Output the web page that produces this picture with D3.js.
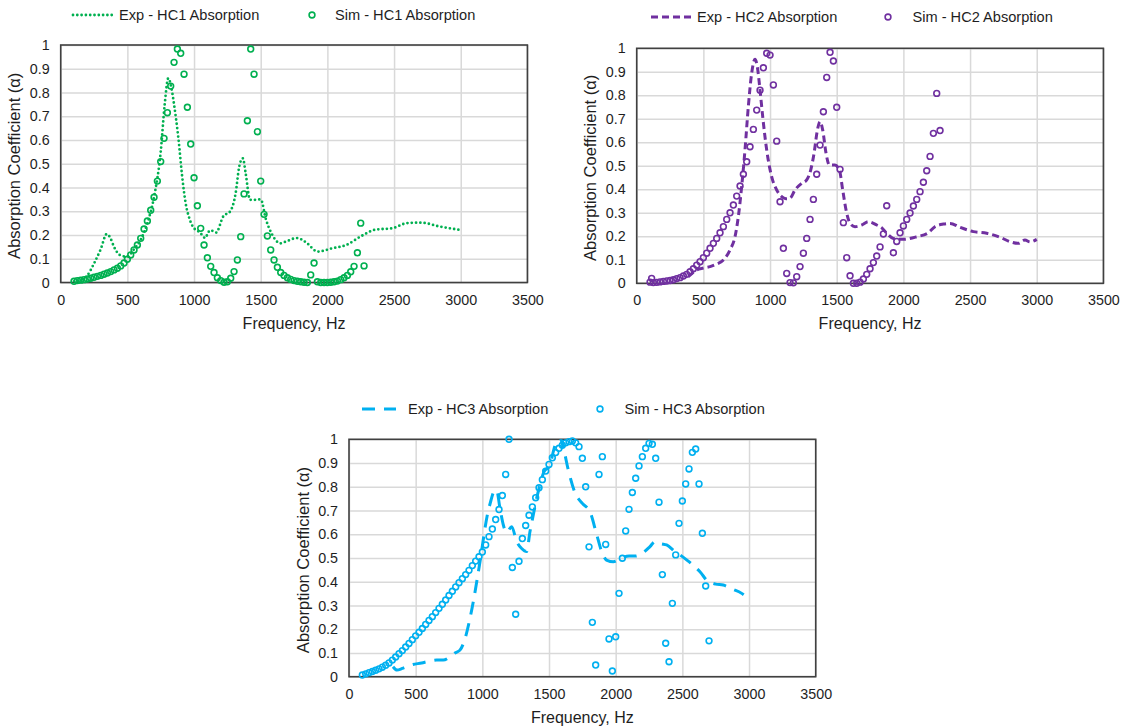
<!DOCTYPE html>
<html>
<head>
<meta charset="utf-8">
<script src="https://cdn.jsdelivr.net/npm/d3@7"></script>
<style>
  body { margin: 0; background: #fff; }
  svg { display: block; font-family: "Liberation Sans", Arial, sans-serif; }
</style>
</head>
<body>
<svg id="chart" width="1129" height="728"></svg>
<script>

// tick values shared by all three panels
const xTicks = [0, 500, 1000, 1500, 2000, 2500, 3000, 3500];
const yTicks = [0, 0.1, 0.2, 0.3, 0.4, 0.5, 0.6, 0.7, 0.8, 0.9, 1];

// [frequency Hz, absorption coefficient]
const expHC1 = [[100,0.005],[150,0.01],[200,0.03],[250,0.08],[300,0.14],[345,0.204],[370,0.19],[400,0.15],[442,0.116],[475,0.11],[500,0.11],[550,0.14],[600,0.18],[650,0.25],[700,0.36],[750,0.55],[780,0.75],[807,0.86],[830,0.82],[850,0.75],[884,0.6],[911,0.446],[937,0.334],[965,0.27],[990,0.236],[1045,0.21],[1085,0.187],[1105,0.21],[1125,0.22],[1165,0.21],[1219,0.278],[1272,0.3],[1312,0.376],[1339,0.488],[1366,0.523],[1387,0.46],[1420,0.348],[1460,0.348],[1500,0.35],[1540,0.264],[1580,0.208],[1647,0.165],[1700,0.175],[1768,0.187],[1810,0.18],[1848,0.165],[1928,0.13],[2035,0.144],[2142,0.158],[2250,0.194],[2357,0.222],[2491,0.229],[2598,0.25],[2705,0.252],[2839,0.236],[2986,0.222]];

const simHC1 = [[100,0.005],[125,0.008],[150,0.01],[175,0.012],[200,0.015],[225,0.018],[250,0.022],[275,0.026],[300,0.03],[325,0.035],[350,0.04],[375,0.046],[400,0.053],[425,0.06],[450,0.07],[475,0.082],[500,0.098],[525,0.116],[550,0.137],[575,0.158],[600,0.186],[625,0.225],[650,0.259],[675,0.304],[700,0.359],[725,0.427],[750,0.509],[775,0.607],[800,0.715],[825,0.827],[850,0.927],[875,0.983],[900,0.965],[925,0.877],[950,0.738],[975,0.583],[1000,0.441],[1025,0.323],[1050,0.228],[1075,0.158],[1100,0.104],[1125,0.068],[1150,0.042],[1175,0.02],[1200,0.008],[1225,0.001],[1250,0.003],[1275,0.018],[1300,0.046],[1325,0.095],[1350,0.193],[1375,0.373],[1400,0.681],[1425,0.983],[1450,0.877],[1475,0.635],[1500,0.427],[1525,0.287],[1550,0.196],[1575,0.137],[1600,0.095],[1625,0.064],[1650,0.042],[1675,0.03],[1700,0.02],[1725,0.013],[1750,0.008],[1775,0.005],[1800,0.003],[1825,0.001],[1850,0],[1875,0.032],[1900,0.082],[1925,0.003],[1950,0],[1975,0],[2000,0],[2025,0.001],[2050,0.003],[2075,0.006],[2100,0.012],[2125,0.02],[2150,0.03],[2175,0.045],[2200,0.068],[2225,0.125],[2250,0.25],[2275,0.07]];

const expHC2 = [[387,0.028],[420,0.045],[450,0.057],[500,0.065],[550,0.071],[600,0.082],[650,0.099],[700,0.142],[737,0.198],[762,0.283],[787,0.41],[812,0.567],[837,0.751],[862,0.893],[887,0.953],[905,0.92],[925,0.822],[945,0.709],[975,0.567],[1012,0.454],[1050,0.397],[1087,0.369],[1120,0.36],[1150,0.362],[1187,0.397],[1237,0.425],[1275,0.44],[1305,0.482],[1330,0.553],[1355,0.652],[1375,0.688],[1395,0.652],[1420,0.553],[1445,0.503],[1487,0.503],[1520,0.482],[1545,0.397],[1570,0.312],[1600,0.255],[1637,0.241],[1687,0.248],[1737,0.262],[1800,0.248],[1840,0.235],[1875,0.213],[1925,0.191],[2000,0.187],[2100,0.198],[2187,0.215],[2237,0.241],[2300,0.252],[2350,0.255],[2425,0.238],[2525,0.22],[2625,0.213],[2725,0.196],[2800,0.177],[2862,0.17],[2912,0.184],[2950,0.176],[3000,0.187]];

const simHC2 = [[100,0.005],[112,0.021],[125,0.003],[150,0.004],[175,0.006],[200,0.008],[225,0.01],[250,0.012],[275,0.015],[300,0.02],[325,0.024],[350,0.031],[375,0.038],[400,0.049],[425,0.062],[450,0.077],[475,0.092],[500,0.109],[525,0.128],[550,0.149],[575,0.17],[600,0.191],[625,0.215],[650,0.241],[675,0.272],[700,0.3],[725,0.333],[750,0.371],[775,0.414],[800,0.464],[825,0.517],[850,0.581],[875,0.655],[900,0.737],[925,0.822],[950,0.917],[975,0.979],[1000,0.971],[1025,0.844],[1050,0.605],[1075,0.347],[1100,0.149],[1125,0.042],[1150,0.003],[1175,0.002],[1200,0.028],[1225,0.071],[1250,0.128],[1275,0.191],[1300,0.272],[1325,0.357],[1350,0.464],[1375,0.588],[1400,0.73],[1425,0.876],[1450,0.983],[1475,0.946],[1500,0.749],[1525,0.485],[1550,0.258],[1575,0.109],[1600,0.032],[1625,0],[1650,0],[1675,0.005],[1700,0.018],[1725,0.038],[1750,0.062],[1775,0.088],[1800,0.116],[1825,0.155],[1850,0.21],[1875,0.33],[1925,0.13],[1950,0.178],[1975,0.215],[2000,0.244],[2025,0.272],[2050,0.299],[2075,0.329],[2100,0.357],[2125,0.39],[2150,0.43],[2175,0.479],[2200,0.54],[2225,0.638],[2250,0.808],[2275,0.65]];

const expHC3 = [[330,0.042],[360,0.028],[400,0.035],[470,0.05],[545,0.058],[600,0.065],[657,0.07],[707,0.07],[760,0.085],[795,0.1],[832,0.112],[870,0.16],[902,0.232],[932,0.316],[962,0.414],[987,0.5],[1012,0.597],[1037,0.68],[1062,0.737],[1087,0.78],[1107,0.786],[1132,0.71],[1157,0.64],[1182,0.608],[1220,0.632],[1257,0.57],[1295,0.54],[1332,0.527],[1357,0.611],[1382,0.681],[1407,0.751],[1432,0.807],[1462,0.863],[1507,0.89],[1532,0.948],[1555,0.99],[1580,1.01],[1605,0.97],[1645,0.87],[1695,0.775],[1750,0.73],[1807,0.695],[1857,0.6],[1895,0.527],[1935,0.49],[1982,0.484],[2045,0.5],[2100,0.508],[2145,0.508],[2200,0.52],[2257,0.548],[2295,0.569],[2340,0.56],[2382,0.555],[2445,0.527],[2490,0.51],[2532,0.492],[2580,0.47],[2632,0.442],[2695,0.4],[2750,0.39],[2807,0.386],[2870,0.37],[2945,0.351],[2960,0.345]];

const simHC3 = [[100,0.007],[125,0.012],[150,0.017],[175,0.022],[200,0.027],[225,0.033],[250,0.04],[275,0.048],[300,0.058],[325,0.07],[350,0.083],[375,0.097],[400,0.11],[425,0.125],[450,0.14],[475,0.156],[500,0.172],[525,0.187],[550,0.203],[575,0.22],[600,0.237],[625,0.253],[650,0.27],[675,0.288],[700,0.305],[725,0.323],[750,0.342],[775,0.36],[800,0.378],[825,0.396],[850,0.413],[875,0.43],[900,0.448],[925,0.468],[950,0.487],[975,0.505],[1000,0.525],[1025,0.555],[1050,0.59],[1075,0.622],[1100,0.662],[1125,0.704],[1150,0.763],[1175,0.852],[1200,1.0],[1225,0.46],[1250,0.263],[1275,0.486],[1300,0.582],[1325,0.637],[1350,0.68],[1375,0.715],[1400,0.754],[1425,0.796],[1450,0.83],[1475,0.866],[1500,0.894],[1525,0.922],[1550,0.944],[1575,0.962],[1600,0.975],[1625,0.985],[1650,0.99],[1675,0.993],[1700,0.985],[1725,0.969],[1750,0.92],[1775,0.8],[1800,0.547],[1825,0.229],[1850,0.049],[1875,0.852],[1900,0.927],[1925,0.557],[1950,0.159],[1975,0.024],[2000,0.168],[2025,0.351],[2050,0.499],[2075,0.614],[2100,0.705],[2125,0.776],[2150,0.836],[2175,0.888],[2200,0.927],[2225,0.962],[2250,0.983],[2275,0.979],[2300,0.92],[2325,0.735],[2350,0.43],[2375,0.141],[2400,0.063],[2425,0.309],[2450,0.513],[2475,0.646],[2500,0.74],[2525,0.812],[2550,0.875],[2575,0.945],[2600,0.959],[2625,0.812],[2650,0.604],[2675,0.382],[2700,0.151]];

const panels = [
  { id: 1, exp: expHC1, sim: simHC1, color: "#00b050",
    expName: "Exp - HC1 Absorption", simName: "Sim - HC1 Absorption",
    dash: "0,4.3", cap: "round", lw: 2.8,
    left: 60.7, top: 45, w: 466.7, h: 237.5,
    legY: 20, legLine: [73, 113], legText: 119, legMark: 312, legSim: 335 },
  { id: 2, exp: expHC2, sim: simHC2, color: "#7030a0",
    expName: "Exp - HC2 Absorption", simName: "Sim - HC2 Absorption",
    dash: "7,4", cap: "butt", lw: 3,
    left: 636.7, top: 48.3, w: 466.7, h: 235,
    legY: 22, legLine: [651, 694], legText: 697, legMark: 888, legSim: 912.5 },
  { id: 3, exp: expHC3, sim: simHC3, color: "#00b0f0",
    expName: "Exp - HC3 Absorption", simName: "Sim - HC3 Absorption",
    dash: "13,9", cap: "butt", lw: 3,
    left: 349, top: 439.3, w: 466.7, h: 237.4,
    legY: 414, legLine: [362, 396], legText: 408, legMark: 600, legSim: 624.5 }
];

const svg = d3.select("#chart");
svg.append("rect").attr("width", 1129).attr("height", 728).attr("fill", "#fff");

panels.forEach(drawPanel);

function drawPanel(p) {
  let x = d3.scaleLinear().domain([0, 3500]).range([0, p.w]);
  let y = d3.scaleLinear().domain([0, 1]).range([p.h, 0]);

  let g = svg.append("g").attr("transform", "translate(" + p.left + "," + p.top + ")");

  // grid
  g.append("g")
    .attr("transform", "translate(0," + p.h + ")")
    .call(d3.axisBottom(x).tickValues(xTicks).tickSize(-p.h).tickFormat(""))
    .call(s => s.select(".domain").remove())
    .call(s => s.selectAll("line").attr("stroke", "#d9d9d9").attr("stroke-width", 1.5));
  g.append("g")
    .call(d3.axisLeft(y).tickValues(yTicks).tickSize(-p.w).tickFormat(""))
    .call(s => s.select(".domain").remove())
    .call(s => s.selectAll("line").attr("stroke", "#d9d9d9").attr("stroke-width", 1.5));

  // tick labels
  g.append("g")
    .attr("transform", "translate(0," + p.h + ")")
    .call(d3.axisBottom(x).tickValues(xTicks).tickSize(0).tickPadding(12).tickFormat(d3.format("d")))
    .call(s => s.select(".domain").remove())
    .call(s => s.selectAll("text").attr("font-size", 14.3).attr("fill", "#1e1e1e")
      .attr("font-family", "Liberation Sans, Arial, sans-serif"));
  g.append("g")
    .call(d3.axisLeft(y).tickValues(yTicks).tickSize(0).tickPadding(11).tickFormat(d => d3.format("")(+d.toFixed(1))))
    .call(s => s.select(".domain").remove())
    .call(s => s.selectAll("text").attr("font-size", 14.3).attr("fill", "#1e1e1e")
      .attr("font-family", "Liberation Sans, Arial, sans-serif"));

  // plot border
  g.append("rect")
    .attr("width", p.w).attr("height", p.h)
    .attr("fill", "none").attr("stroke", "#404040").attr("stroke-width", 1.6);

  g.append("clipPath").attr("id", "clip" + p.id)
    .append("rect").attr("width", p.w).attr("height", p.h);

  let line = d3.line()
    .x(d => x(d[0])).y(d => y(d[1]))
    .curve(d3.curveMonotoneX);

  g.append("path")
    .datum(p.exp)
    .attr("clip-path", "url(#clip" + p.id + ")")
    .attr("d", line)
    .attr("fill", "none")
    .attr("stroke", p.color)
    .attr("stroke-width", p.lw)
    .attr("stroke-linecap", p.cap)
    .attr("stroke-dasharray", p.dash);

  g.selectAll(".sim")
    .data(p.sim)
    .enter().append("circle")
    .attr("class", "sim")
    .attr("cx", d => x(d[0]))
    .attr("cy", d => y(d[1]))
    .attr("r", 2.9)
    .attr("fill", "none")
    .attr("stroke", p.color)
    .attr("stroke-width", 1.6);

  // axis titles
  g.append("text")
    .attr("x", p.w / 2).attr("y", p.h + 46)
    .attr("text-anchor", "middle")
    .attr("font-size", 16).attr("fill", "#1e1e1e")
    .text("Frequency, Hz");
  g.append("text")
    .attr("transform", "translate(-46," + (p.h / 2 + 2) + ")rotate(-90)")
    .attr("text-anchor", "middle")
    .attr("dy", "0.35em")
    .attr("font-size", 16.5).attr("fill", "#1e1e1e")
    .text("Absorption Coefficient (\u03b1)");

  // legend
  let leg = svg.append("g");
  leg.append("line")
    .attr("x1", p.legLine[0]).attr("x2", p.legLine[1])
    .attr("y1", p.legY - 5).attr("y2", p.legY - 5)
    .attr("stroke", p.color)
    .attr("stroke-width", p.lw)
    .attr("stroke-linecap", p.cap)
    .attr("stroke-dasharray", p.dash);
  leg.append("text")
    .attr("x", p.legText).attr("y", p.legY)
    .attr("font-size", 14.6).attr("fill", "#1e1e1e")
    .text(p.expName);
  leg.append("circle")
    .attr("cx", p.legMark).attr("cy", p.legY - 5)
    .attr("r", 2.9)
    .attr("fill", "none").attr("stroke", p.color).attr("stroke-width", 1.6);
  leg.append("text")
    .attr("x", p.legSim).attr("y", p.legY)
    .attr("font-size", 14.6).attr("fill", "#1e1e1e")
    .text(p.simName);
}

</script>
</body>
</html>
